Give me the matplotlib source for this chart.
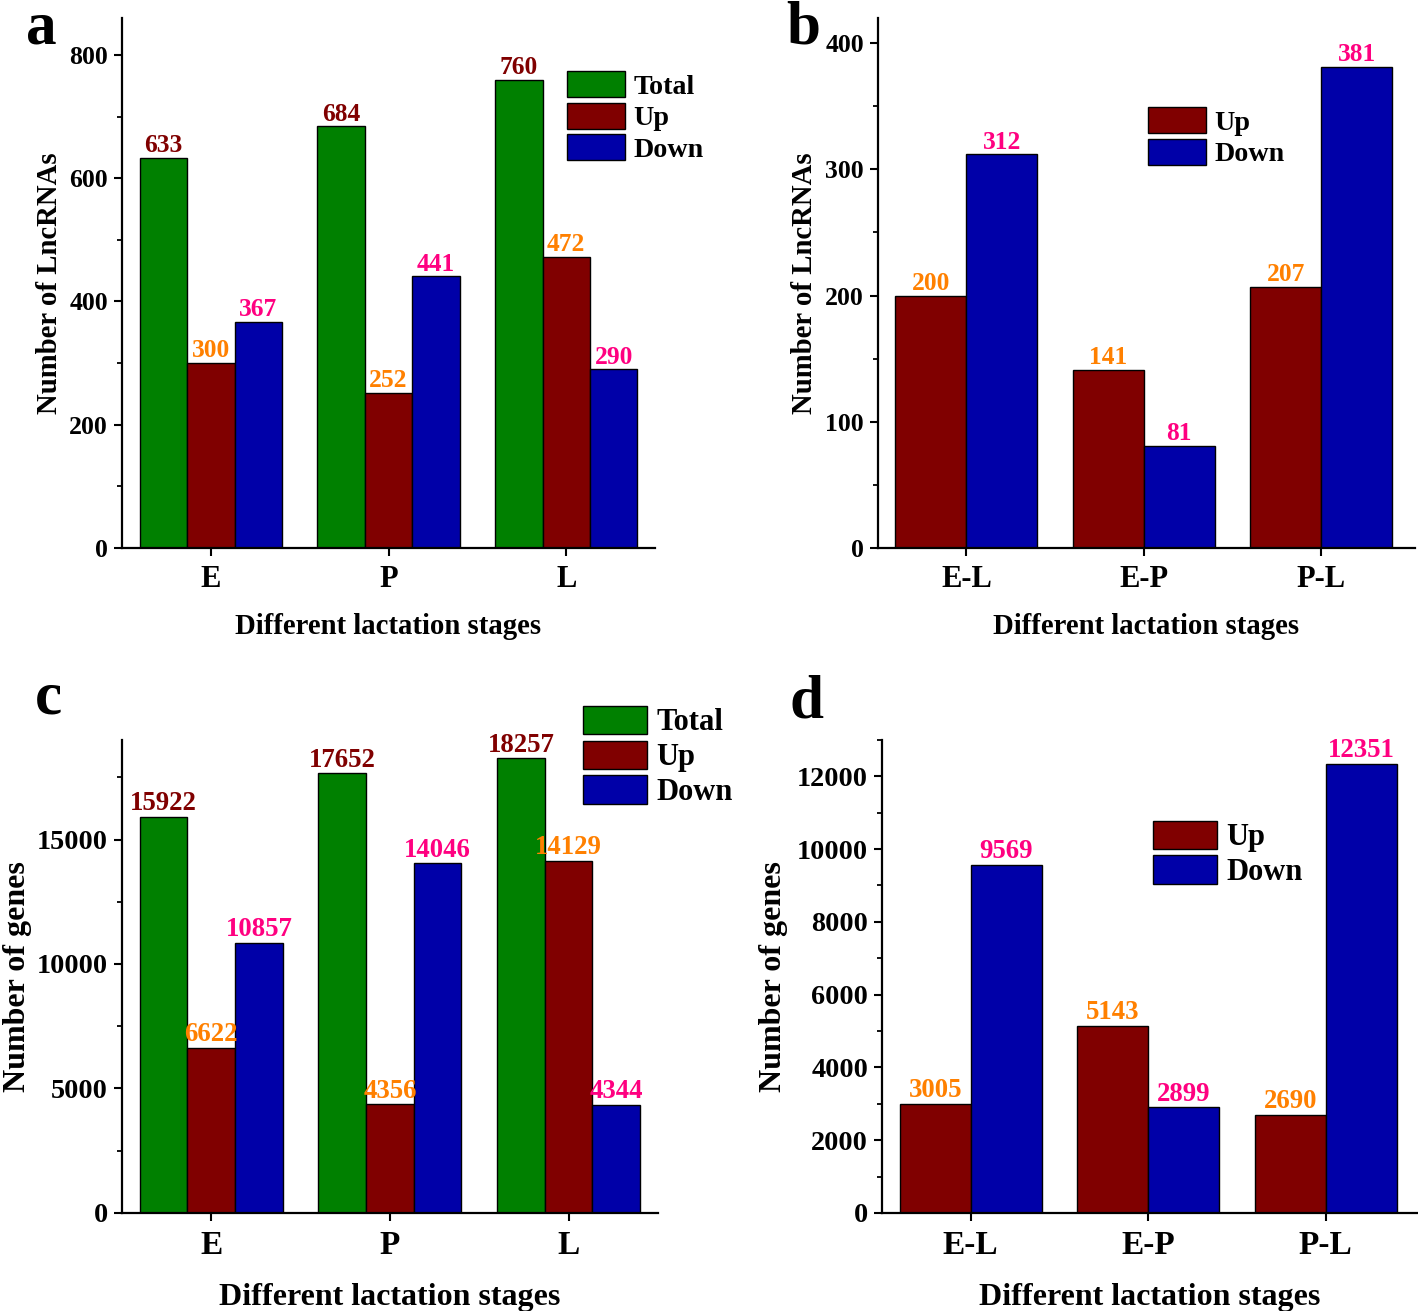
import numpy as np
import matplotlib
matplotlib.use("Agg")
import matplotlib.pyplot as plt
from matplotlib.ticker import MultipleLocator

plt.rcParams['font.family'] = ['Liberation Serif', 'DejaVu Serif']
plt.rcParams['font.weight'] = 'bold'

# datos
stages = ["E", "P", "L"]
pairs = ["E-L", "E-P", "P-L"]

lnc_total = [633, 684, 760]
lnc_up = [300, 252, 472]
lnc_down = [367, 441, 290]

lnc_pair_up = [200, 141, 207]
lnc_pair_down = [312, 81, 381]

gene_total = [15922, 17652, 18257]
gene_up = [6622, 4356, 14129]
gene_down = [10857, 14046, 4344]

gene_pair_up = [3005, 5143, 2690]
gene_pair_down = [9569, 2899, 12351]

GREEN = "#008000"
RED = "#800000"
BLUE = "#0000A8"
C_TOTAL_TXT = "#800000"
C_UP_TXT = "#FF8000"
C_DOWN_TXT = "#FF0080"

fig = plt.figure(figsize=(14.18, 13.11), dpi=100)

# tamaños de letra: ticks, valores, etiquetas de ejes, leyenda, categorías
FS_TOP = dict(tick=18.5, val=18.4, lab=20.7, leg=20.2, cat=22)
FS_BOT = dict(tick=20.3, val=19.3, lab=23.0, leg=22, cat=24)


def panel(rect, cats, series, colors, txtcolors, names, ylim, major, minor,
          ylabel, fs, leg_anchor, ylab_x, xlab_y, xmax, hl, hh):
    ax = fig.add_axes(rect)
    x = np.arange(len(cats))
    n = len(series)
    w = 0.8 / n
    for i, (vals, col, tcol, name) in enumerate(zip(series, colors, txtcolors, names)):
        pos = x - 0.4 + w * (i + 0.5)
        ax.bar(pos, vals, w, color=col, edgecolor="black", linewidth=1.0, label=name)
        for p, v in zip(pos, vals):
            ax.annotate(str(v), (p, v), xytext=(0, 0.5), textcoords="offset points",
                        ha="center", va="bottom", color=tcol, fontsize=fs["val"],
                        fontweight="bold")
    ax.set_xlim(-0.5, xmax)
    ax.set_ylim(0, ylim)
    ax.yaxis.set_major_locator(MultipleLocator(major))
    ax.yaxis.set_minor_locator(MultipleLocator(minor))
    ax.set_xticks(x)
    ax.set_xticklabels(cats, fontsize=fs["cat"], fontweight="bold")
    for lab in ax.get_yticklabels():
        lab.set_fontsize(fs["tick"])
        lab.set_fontweight("bold")
    ax.spines["top"].set_visible(False)
    ax.spines["right"].set_visible(False)
    ax.spines["left"].set_linewidth(1.6)
    ax.spines["bottom"].set_linewidth(1.6)
    ax.tick_params(axis="both", which="major", direction="out", length=6, width=1.5, pad=4)
    ax.tick_params(axis="y", which="minor", direction="out", length=3.5, width=1.3)
    ax.tick_params(axis="x", which="major", pad=6)
    ax.set_ylabel(ylabel, fontsize=fs["lab"], fontweight="bold")
    ax.yaxis.set_label_coords(ylab_x, 0.5)
    ax.set_xlabel("Different lactation stages", fontsize=fs["lab"], fontweight="bold")
    ax.xaxis.set_label_coords(0.5, xlab_y)
    ax.legend(loc="upper left", bbox_to_anchor=leg_anchor, frameon=False,
              prop={"size": fs["leg"], "weight": "bold"}, handlelength=hl,
              handleheight=hh, labelspacing=0.1, handletextpad=0.3,
              borderpad=0, borderaxespad=0)
    return ax


panel([0.086, 0.582, 0.376, 0.4043], stages, [lnc_total, lnc_up, lnc_down],
      [GREEN, RED, BLUE], [C_TOTAL_TXT, C_UP_TXT, C_DOWN_TXT], ["Total", "Up", "Down"],
      860, 200, 100, "Number of LncRNAs", FS_TOP, (0.835, 0.9), -0.110, -0.123, 2.5,
      2.07, 1.07)

panel([0.619, 0.582, 0.379, 0.4043], pairs, [lnc_pair_up, lnc_pair_down],
      [RED, BLUE], [C_UP_TXT, C_DOWN_TXT], ["Up", "Down"],
      420, 100, 50, "Number of LncRNAs", FS_TOP, (0.503, 0.832), -0.112, -0.123, 2.53,
      2.07, 1.07)

panel([0.086, 0.0748, 0.378, 0.3608], stages, [gene_total, gene_up, gene_down],
      [GREEN, RED, BLUE], [C_TOTAL_TXT, C_UP_TXT, C_DOWN_TXT], ["Total", "Up", "Down"],
      19000, 5000, 2500, "Number of genes", FS_BOT, (0.86, 1.072), -0.168, -0.148, 2.5,
      2.1, 1.05)

panel([0.622, 0.0748, 0.378, 0.3608], pairs, [gene_pair_up, gene_pair_down],
      [RED, BLUE], [C_UP_TXT, C_DOWN_TXT], ["Up", "Down"],
      13000, 2000, 1000, "Number of genes", FS_BOT, (0.506, 0.829), -0.176, -0.148, 2.52,
      2.1, 1.05)

fig.text(26 / 1418, 1 - 44 / 1311, "a", fontsize=44, fontweight="bold", va="baseline")
fig.text(786 / 1418, 1 - 44 / 1311, "b", fontsize=44, fontweight="bold", va="baseline")
fig.text(35 / 1418, 1 - 714 / 1311, "c", fontsize=44, fontweight="bold", va="baseline")
fig.text(790 / 1418, 1 - 717 / 1311, "d", fontsize=44, fontweight="bold", va="baseline")

fig.savefig("out.png", dpi=100)
